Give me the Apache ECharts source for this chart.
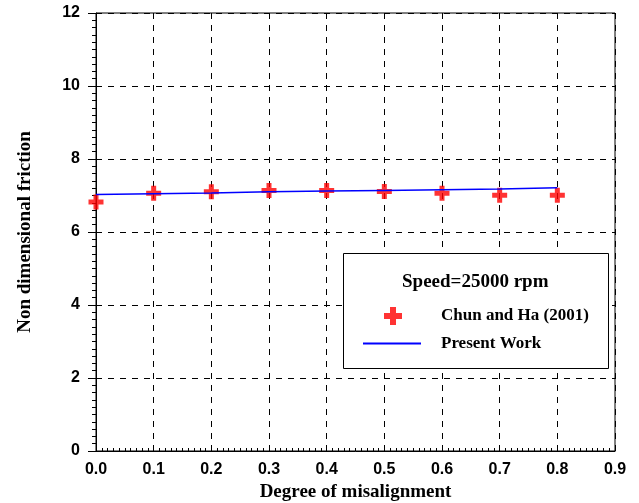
<!DOCTYPE html>
<html>
<head>
<meta charset="utf-8">
<script src="https://cdn.jsdelivr.net/npm/echarts@6/dist/echarts.min.js"></script>
<style>
  html, body { margin: 0; padding: 0; background: #fff; }
  #chart { width: 639px; height: 503px; }
</style>
</head>
<body>
<div id="chart"></div>
<script>
// Degree of misalignment (x) shared by both series
const misalignment = [0.0, 0.1, 0.2, 0.3, 0.4, 0.5, 0.6, 0.7, 0.8];
// Experimental friction values, Chun and Ha (2001)
const chunHa = [6.82, 7.06, 7.10, 7.14, 7.14, 7.11, 7.06, 7.01, 7.01];
// Computed friction, present work
const presentWork = [7.03, 7.05, 7.07, 7.10, 7.12, 7.14, 7.16, 7.18, 7.21];

const seriesNames = ['Chun and Ha (2001)', 'Present Work'];
const legendTitle = 'Speed=25000 rpm';

const plusPath = 'path://M4,0H8V4H12V8H8V12H4V8H0V4H4Z';
const linePath = 'path://M0,0H58V2H0Z';
const serif = '"Liberation Serif", "Times New Roman", serif';
const sans = '"Liberation Sans", Arial, sans-serif';

const chart = echarts.init(document.getElementById('chart'));
chart.setOption({
  animation: false,
  backgroundColor: '#ffffff',
  grid: {
    left: 96, right: 24, top: 13, bottom: 52,
    outerBoundsMode: 'none', containLabel: false,
    show: true, borderColor: '#000', borderWidth: 1
  },
  xAxis: {
    type: 'value', min: 0, max: 0.9, interval: 0.1,
    name: 'Degree of misalignment', nameLocation: 'middle', nameGap: 32,
    nameTextStyle: { fontFamily: serif, fontWeight: 'bold', fontSize: 19, color: '#000' },
    axisLine: { lineStyle: { color: '#000', width: 1 } },
    axisTick: { inside: true, length: 6, lineStyle: { color: '#000' } },
    minorTick: { show: true, splitNumber: 10, length: 3, lineStyle: { color: '#000' } },
    axisLabel: {
      margin: 11, color: '#000', fontFamily: sans, fontWeight: 'bold', fontSize: 16,
      formatter: v => v.toFixed(1)
    },
    splitLine: { show: true, lineStyle: { color: '#000', type: [6, 6], width: 1 } }
  },
  yAxis: {
    type: 'value', min: 0, max: 12, interval: 2,
    name: 'Non dimensional friction', nameLocation: 'middle', nameGap: 61,
    nameTextStyle: { fontFamily: serif, fontWeight: 'bold', fontSize: 19, color: '#000' },
    axisLine: { show: true, lineStyle: { color: '#000', width: 1 } },
    axisTick: { show: true, inside: false, length: 8, lineStyle: { color: '#000' } },
    minorTick: { show: true, splitNumber: 10, length: 4, lineStyle: { color: '#000' } },
    axisLabel: { margin: 16, color: '#000', fontFamily: sans, fontWeight: 'bold', fontSize: 16 },
    splitLine: { show: true, lineStyle: { color: '#000', type: [6, 6], width: 1 } }
  },
  legend: [
    {
      data: [seriesNames[0]], left: 384, top: 307, orient: 'vertical', padding: 0,
      itemWidth: 18, itemHeight: 18, icon: plusPath,
      textStyle: { fontFamily: serif, fontWeight: 'bold', fontSize: 17, color: '#000', padding: [0, 0, 0, 34] }
    },
    {
      data: [{ name: seriesNames[1], icon: linePath }], left: 363, top: 335, orient: 'vertical', padding: 0,
      itemWidth: 58, itemHeight: 2,
      textStyle: { fontFamily: serif, fontWeight: 'bold', fontSize: 17, color: '#000', padding: [0, 0, 0, 15] }
    }
  ],
  graphic: [
    {
      type: 'rect', left: 343, top: 253, z: 1,
      shape: { width: 265, height: 115 },
      style: { fill: '#fff', stroke: '#000', lineWidth: 1 }
    },
    {
      type: 'text', left: 402, top: 273, z: 2,
      style: { text: legendTitle, font: 'bold 19px ' + serif, fill: '#000' }
    }
  ],
  series: [
    {
      name: seriesNames[0], type: 'scatter', z: 3,
      symbol: plusPath, symbolSize: 15,
      itemStyle: { color: '#ff0000' },
      data: misalignment.map((x, i) => [x, chunHa[i]])
    },
    {
      name: seriesNames[1], type: 'line', z: 4,
      symbol: 'none', showSymbol: false,
      lineStyle: { color: '#0000ff', width: 1.5 },
      itemStyle: { color: '#0000ff' },
      data: misalignment.map((x, i) => [x, presentWork[i]])
    }
  ]
});
</script>
</body>
</html>
